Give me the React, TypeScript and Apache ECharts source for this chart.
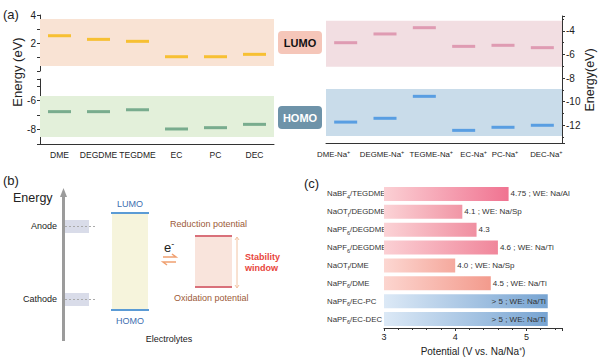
import React, { useEffect, useRef } from 'react';
import * as echarts from 'echarts';

// ---------- Panel (a) data ----------
const solvents = ['DME', 'DEGDME', 'TEGDME', 'EC', 'PC', 'DEC'];
const lumoSolvent = [2.52, 2.26, 2.12, 1.02, 1.02, 1.19];
const homoSolvent = [-6.76, -6.76, -6.63, -7.96, -7.87, -7.64];
const complexes = ['DME-Na', 'DEGME-Na', 'TEGME-Na', 'EC-Na', 'PC-Na', 'DEC-Na'];
const lumoComplex = [-5.01, -4.27, -3.74, -5.32, -5.23, -5.43];
const homoComplex = [-11.73, -11.41, -9.55, -12.43, -12.17, -12.0];
const leftTopTicks = [4, 2];
const leftBottomTicks = [-6, -8];

// ---------- Panel (c) data ----------
const salts = ['NaBF4', 'NaOTf', 'NaPF6', 'NaPF6', 'NaOTf', 'NaPF6', 'NaPF6', 'NaPF6'];
const electrolyteSolvents = ['TEGDME', 'DEGDME', 'DEGDME', 'DEGDME', 'DME', 'DME', 'EC-PC', 'EC-DEC'];
const potentials = [4.75, 4.1, 4.3, 4.6, 4.0, 4.5, 5.3, 5.3];
const notes = ['4.75 ; WE: Na/Al', '4.1 ; WE: Na/Sp', '4.3', '4.6 ; WE: Na/Ti', '4.0 ; WE: Na/Sp', '4.5 ; WE: Na/Ti', '> 5 ; WE: Na/Ti', '> 5 ; WE: Na/Ti'];

// ---------- styles ----------
const barStart = ['#fbd0d4', '#fbd3d6', '#fbd3d6', '#fbd0d4', '#fcd7d2', '#fcd5cf', '#dce9f6', '#dce9f6'];
const barEnd = ['#f07391', '#f196a6', '#f08fa1', '#f0869b', '#f5a99d', '#f39b8d', '#77a4d2', '#77a4d2'];
const labelInside = [false, false, false, false, false, false, true, true];
const complexLabelShift = [-12, -3, 7, 10, 2, 4];

const FONT = '"Liberation Sans", Arial, sans-serif';
const AX = '#333';

function App() {
  const ref = useRef<HTMLDivElement>(null);
  useEffect(() => {
    if (!ref.current) return;
    const chart = echarts.init(ref.current, null, { renderer: 'svg' });
    const categories = salts.map((s, i) => s + '/' + electrolyteSolvents[i]);

    const txt = (text: string, x: number, y: number, o: any = {}) => ({
      type: 'text', x, y, rotation: o.rotation || 0, z: 100,
      style: {
        text, fill: o.fill || '#222', fontSize: o.fontSize || 9, fontWeight: o.fontWeight || 'normal',
        fontFamily: FONT,
        align: o.align || 'left', verticalAlign: 'middle',
        textAlign: o.align || 'left', textVerticalAlign: 'middle',
        rich: o.rich,
      },
    });

    const graphic: any[] = [
      txt('(a)', 3, 14, { fontSize: 13 }),
      txt('(b)', 3, 180, { fontSize: 13 }),
      txt('(c)', 304, 183, { fontSize: 13 }),
      txt('Energy (eV)', 17, 72, { fontSize: 13, align: 'center', rotation: Math.PI / 2 }),
      txt('Energy(eV)', 590, 80, { fontSize: 12.5, align: 'center', rotation: Math.PI / 2 }),
      // LUMO / HOMO tags
      { type: 'rect', shape: { x: 278, y: 31, width: 44, height: 23, r: 4 }, style: { fill: '#f5c6b9' } },
      txt('LUMO', 300, 43, { fontSize: 11, fontWeight: 'bold', align: 'center', fill: '#111' }),
      { type: 'rect', shape: { x: 278, y: 106, width: 44, height: 23, r: 4 }, style: { fill: '#6e93a9' } },
      txt('HOMO', 300, 118, { fontSize: 11, fontWeight: 'bold', align: 'center', fill: '#fff' }),
      // Panel (b)
      { type: 'rect', shape: { x: 62, y: 195, width: 3, height: 146 }, style: { fill: '#9b9b9b' } },
      { type: 'polygon', shape: { points: [[60, 197], [63.5, 188], [67, 197]] }, style: { fill: '#9b9b9b' } },
      txt('Energy', 13, 198, { fontSize: 12.5 }),
      txt('Anode', 57, 226, { align: 'right' }),
      txt('Cathode', 57, 299, { align: 'right' }),
      { type: 'rect', shape: { x: 65, y: 220, width: 24, height: 13 }, style: { fill: '#d9dce9' } },
      { type: 'rect', shape: { x: 65, y: 293, width: 24, height: 13 }, style: { fill: '#d9dce9' } },
      { type: 'line', shape: { x1: 65, y1: 226.5, x2: 95, y2: 226.5 }, style: { stroke: '#aaa', lineWidth: 1, lineDash: [2, 2] } },
      { type: 'line', shape: { x1: 65, y1: 299.5, x2: 95, y2: 299.5 }, style: { stroke: '#aaa', lineWidth: 1, lineDash: [2, 2] } },
      { type: 'rect', shape: { x: 112, y: 213, width: 36, height: 97 }, style: { fill: '#f6f4dc' } },
      { type: 'line', shape: { x1: 111, y1: 213, x2: 149, y2: 213 }, style: { stroke: '#5b9bd5', lineWidth: 2 } },
      { type: 'line', shape: { x1: 111, y1: 310, x2: 149, y2: 310 }, style: { stroke: '#5b9bd5', lineWidth: 2 } },
      txt('LUMO', 130, 204, { align: 'center', fill: '#3d6fb0' }),
      txt('HOMO', 130, 321, { align: 'center', fill: '#3d6fb0' }),
      txt('Electrolytes', 169, 339, { align: 'center' }),
      txt('{e|e}{s|-}', 164, 247, { rich: { e: { fontSize: 13, fill: '#222', fontFamily: FONT }, s: { fontSize: 9, fill: '#222', verticalAlign: 'top', padding: [0, 0, 6, 0], fontFamily: FONT } } }),
      { type: 'polyline', shape: { points: [[163, 257], [176, 257], [172, 254]] }, style: { stroke: '#f0a070', lineWidth: 1.5, fill: null } },
      { type: 'polyline', shape: { points: [[176, 262], [163, 262], [167, 265]] }, style: { stroke: '#f0a070', lineWidth: 1.5, fill: null } },
      txt('Reduction potential', 170, 224, { fill: '#9c5a38' }),
      txt('Oxidation potential', 174, 298, { fill: '#9c5a38' }),
      { type: 'rect', shape: { x: 195, y: 236, width: 37, height: 51 }, style: { fill: '#f9e4dc' } },
      { type: 'line', shape: { x1: 195, y1: 236, x2: 232, y2: 236 }, style: { stroke: '#d9707a', lineWidth: 2 } },
      { type: 'line', shape: { x1: 195, y1: 287, x2: 232, y2: 287 }, style: { stroke: '#d9707a', lineWidth: 2 } },
      { type: 'line', shape: { x1: 237, y1: 237, x2: 237, y2: 288 }, style: { stroke: '#f2c4a4', lineWidth: 1 } },
      { type: 'polyline', shape: { points: [[235, 240], [237, 237], [239, 240]] }, style: { stroke: '#f2c4a4', lineWidth: 1, fill: null } },
      { type: 'polyline', shape: { points: [[235, 285], [237, 288], [239, 285]] }, style: { stroke: '#f2c4a4', lineWidth: 1, fill: null } },
      txt('Stability', 245, 257, { fill: '#e8453c', fontWeight: 'bold' }),
      txt('window', 245, 268, { fill: '#e8453c', fontWeight: 'bold' }),
    ];

    const scatter = (xi: number, yi: number, data: number[], color: string, band: number[], bandColor: string) => ({
      type: 'scatter', xAxisIndex: xi, yAxisIndex: yi, data, symbol: 'rect', symbolSize: [23, 3],
      itemStyle: { color }, silent: true, z: 5,
      markArea: { silent: true, itemStyle: { color: bandColor }, data: [[{ yAxis: band[0] }, { yAxis: band[1] }]] },
    });

    const catAxisLabel = { fontSize: 8.5, color: '#222', interval: 0, margin: 6, fontFamily: FONT };

    // rich styles for shifted complex labels (padding shifts the centred text)
    const complexRich: any = {};
    complexLabelShift.forEach((d, i) => {
      complexRich['a' + i] = { fontSize: 7.8, color: '#222', fontFamily: FONT, padding: [0, 0, 0, d > 0 ? 2 * d : 0] };
      complexRich['p' + i] = { fontSize: 5.5, color: '#222', fontFamily: FONT, verticalAlign: 'top', padding: [0, d < 0 ? -2 * d : 0, 5, 0] };
    });

    const option: any = {
      animation: false,
      textStyle: { fontFamily: FONT },
      graphic,
      grid: [
        { left: 40, top: 15, width: 234, height: 56 },
        { left: 40, top: 79, width: 234, height: 65 },
        { left: 326, top: 16, width: 236, height: 127 },
        { left: 384, top: 185, width: 178, height: 143 },
      ],
      xAxis: [
        { gridIndex: 0, type: 'category', data: solvents, show: false },
        {
          gridIndex: 1, type: 'category', data: solvents,
          axisLine: { lineStyle: { color: AX } }, axisTick: { alignWithLabel: true, length: 3, lineStyle: { color: AX } },
          axisLabel: catAxisLabel,
        },
        {
          gridIndex: 2, type: 'category', data: complexes,
          axisLine: { lineStyle: { color: AX } }, axisTick: { alignWithLabel: true, length: 3, lineStyle: { color: AX } },
          axisLabel: {
            ...catAxisLabel, fontSize: 7.8,
            formatter: (v: string, i: number) => '{a' + i + '|' + v + '}{p' + i + '|+}',
            rich: complexRich,
          },
        },
        {
          gridIndex: 3, type: 'value', min: 3, max: 5.5, interval: 1,
          axisLine: { show: true, lineStyle: { color: AX } },
          axisTick: { show: true, length: 3, lineStyle: { color: AX } },
          minorTick: { show: true, splitNumber: 5, length: 2, lineStyle: { color: AX } },
          splitLine: { show: false },
          axisLabel: { fontSize: 9, color: '#222', margin: 4, showMaxLabel: false },
          name: 'Potential (V vs. Na/Na⁺)', nameLocation: 'middle', nameGap: 18,
          nameTextStyle: { fontSize: 10, color: '#222', verticalAlign: 'top' },
        },
      ],
      yAxis: [
        {
          gridIndex: 0, type: 'value', min: 0, max: 4, interval: 1,
          axisLine: { show: true, lineStyle: { color: AX } },
          axisTick: { show: true, length: 3, lineStyle: { color: AX } },
          splitLine: { show: false },
          axisLabel: { fontSize: 10, color: '#222', margin: 4, formatter: (v: number) => (leftTopTicks.includes(v) ? String(v) : '') },
        },
        {
          gridIndex: 1, type: 'value', min: -9, max: -4.5, interval: 1,
          axisLine: { show: true, lineStyle: { color: AX } },
          axisTick: { show: true, length: 3, lineStyle: { color: AX } },
          splitLine: { show: false },
          axisLabel: { fontSize: 10, color: '#222', margin: 4, formatter: (v: number) => (leftBottomTicks.includes(v) ? String(v) : '') },
        },
        {
          gridIndex: 2, type: 'value', position: 'right', min: -13.5, max: -2.75, splitNumber: 5,
          axisLine: { show: true, lineStyle: { color: AX } },
          axisTick: { show: true, length: 3, lineStyle: { color: AX } },
          minorTick: { show: true, splitNumber: 2, length: 2, lineStyle: { color: AX } },
          splitLine: { show: false },
          axisLabel: { fontSize: 10, color: '#222', margin: 4, showMinLabel: false, showMaxLabel: false },
        },
        {
          gridIndex: 3, type: 'category', data: categories, inverse: true,
          axisLine: { show: false }, axisTick: { show: false },
          axisLabel: {
            align: 'left', margin: 57, interval: 0,
            formatter: (v: string) => {
              const [salt, solv] = v.split('/');
              return '{b|' + salt.slice(0, -1) + '}{s|' + salt.slice(-1) + '}{b|/' + solv + '}';
            },
            rich: {
              b: { fontSize: 7.8, color: '#333', lineHeight: 12, fontFamily: FONT },
              s: { fontSize: 5.5, color: '#333', lineHeight: 12, verticalAlign: 'bottom', padding: [5, 0, 0, 0], fontFamily: FONT },
            },
          },
        },
      ],
      series: [
        scatter(0, 0, lumoSolvent, '#f6b60a', [0.36, 3.71], '#f9e3d4'),
        scatter(1, 1, homoSolvent, '#5e9b7b', [-5.68, -8.52], '#e3f0da'),
        scatter(2, 2, lumoComplex, '#d98aa6', [-3.15, -7.04], '#f2dee2'),
        scatter(2, 2, homoComplex, '#3d8fe0', [-8.93, -12.91], '#c9dcea'),
        {
          type: 'bar', xAxisIndex: 3, yAxisIndex: 3, barWidth: 14, silent: true,
          data: potentials.map((v, i) => ({
            value: v,
            itemStyle: { color: new echarts.graphic.LinearGradient(0, 0, 1, 0, [{ offset: 0, color: barStart[i] }, { offset: 1, color: barEnd[i] }]) },
            label: {
              show: true, position: labelInside[i] ? 'insideRight' : 'right', distance: 2,
              formatter: notes[i], fontSize: 8, color: '#333',
            },
          })),
        },
      ],
    };
    chart.setOption(option);
    return () => chart.dispose();
  }, []);
  return <div ref={ref} style={{ width: 600, height: 361, position: 'absolute', left: 0, top: 0, background: '#fff' }} />;
}

export default App;
